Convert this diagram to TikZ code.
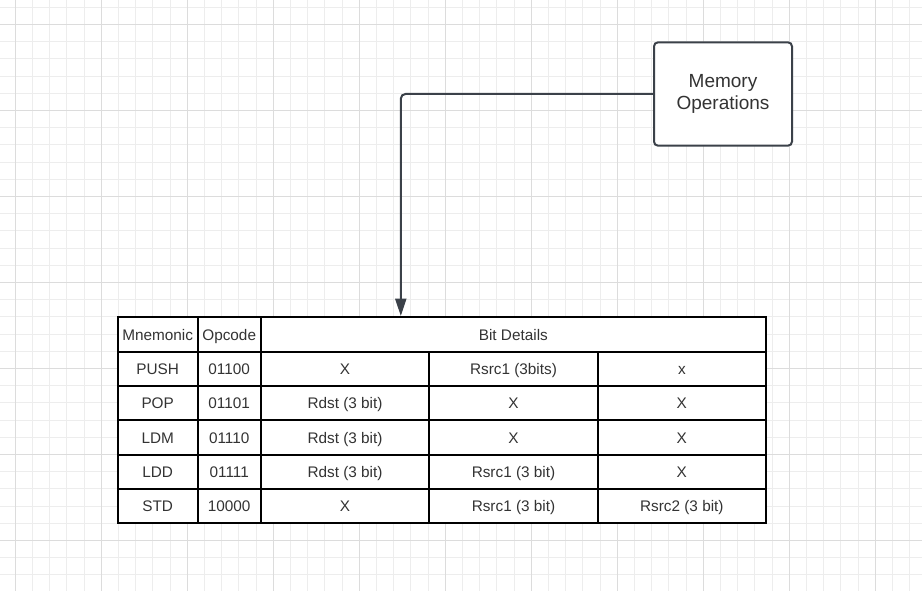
\documentclass[tikz,border=0pt]{standalone}
\usepackage{fontspec}
\setmainfont{Liberation Sans}
\usetikzlibrary{arrows.meta}
\definecolor{gridminor}{HTML}{EDEDED}
\definecolor{gridmajor}{HTML}{DCDCDC}
\definecolor{edgecol}{HTML}{3B4149}
\definecolor{txt}{HTML}{333333}
\tikzset{
  minorline/.style={gridminor, line width=0.75pt},
  majorline/.style={gridmajor, line width=0.75pt},
  cell/.style={draw=black, fill=white, line width=1.5pt, inner sep=0pt, text=txt,
    font=\fontsize{11.5pt}{13pt}\selectfont, minimum height=25.75pt,
    text height=8.4pt, text depth=0pt},
  memnode/.style={draw=edgecol, fill=white, line width=1.5pt, rounded corners=3pt,
    minimum width=103.5pt, minimum height=77.5pt, align=center, text=txt,
    font=\fontsize{14.25pt}{17pt}\selectfont},
  conn/.style={draw=edgecol, line width=1.5pt, rounded corners=3.5pt,
    -{Triangle[length=13pt, width=8.25pt]}}
}
\begin{document}
\begin{tikzpicture}[x=0.75pt, y=-0.75pt]
\useasboundingbox (0,0) rectangle (922,591);
\fill[white] (0,0) rectangle (922,591);
% grid
\foreach \k in {0,...,52} {\draw[minorline] ({15.3+17.2*\k},0) -- ({15.3+17.2*\k},591);}
\foreach \k in {0,...,33} {\draw[minorline] (0,{7.3+17.2*\k}) -- (922,{7.3+17.2*\k});}
\foreach \k in {0,...,10} {\draw[majorline] ({15.3+86*\k},0) -- ({15.3+86*\k},591);}
\foreach \k in {0,...,6} {\draw[majorline] (0,{24.3+86*\k}) -- (922,{24.3+86*\k});}

% box
\node[memnode] (mem) at (723,94) {Memory\\Operations};

% table
% columns: 117.7 197.7 260.7 429.3 597.7 766
% rows: 317.3 + 34.33k
\node[cell, minimum width=60pt] (h1) at (157.7,334.47) {Mnemonic};
\node[cell, minimum width=47.25pt] (h2) at (229.2,334.47) {Opcode};
\node[cell, minimum width=379pt] (h3) at (513.35,334.47) {Bit Details};

\foreach \r/\m/\o/\a/\b/\c in {
  1/PUSH/01100/X/Rsrc1 (3bits)/x,
  2/POP/01101/Rdst (3 bit)/X/X,
  3/LDM/01110/Rdst (3 bit)/X/X,
  4/LDD/01111/Rdst (3 bit)/Rsrc1 (3 bit)/X,
  5/STD/10000/X/Rsrc1 (3 bit)/Rsrc2 (3 bit)} {
  \node[cell, minimum width=60pt] (m\r) at (157.7,{334.47+34.33*\r}) {\m};
  \node[cell, minimum width=47.25pt] (o\r) at (229.2,{334.47+34.33*\r}) {\o};
  \node[cell, minimum width=126.45pt] (a\r) at (345,{334.47+34.33*\r}) {\a};
  \node[cell, minimum width=126.3pt] (b\r) at (513.5,{334.47+34.33*\r}) {\b};
  \node[cell, minimum width=126.23pt] (c\r) at (681.85,{334.47+34.33*\r}) {\c};
}

% connector
\coordinate (tipx) at (400.8,316);
\draw[conn] (mem.west) -| (tipx);
\end{tikzpicture}
\end{document}
